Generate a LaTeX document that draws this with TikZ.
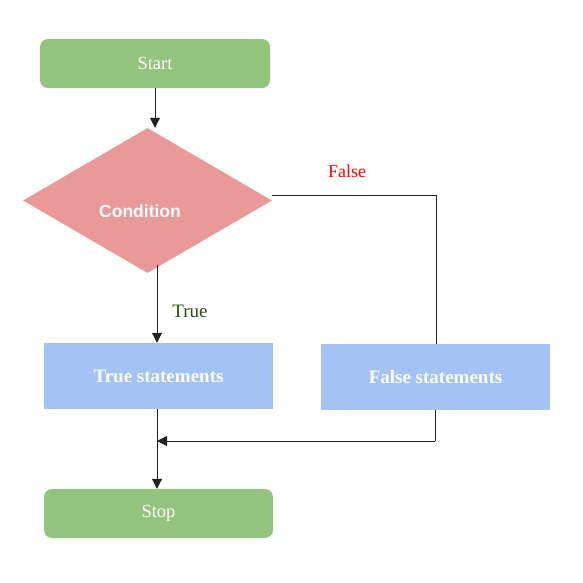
\documentclass[tikz,border=0pt]{standalone}
\usepackage{fontspec}
\setmainfont{Liberation Serif}
\newfontfamily\condfont{Liberation Sans}
\usetikzlibrary{shapes.geometric,arrows.meta}
\definecolor{gbox}{HTML}{93C47D}
\definecolor{pbox}{HTML}{EA9999}
\definecolor{bbox}{HTML}{A4C2F4}
\definecolor{lnc}{HTML}{222222}
\definecolor{tlab}{HTML}{274E13}
\begin{document}
\begin{tikzpicture}[x=1pt,y=-1pt,
  termbox/.style={fill=gbox,rounded corners=8pt,minimum width=230pt,minimum height=49pt,inner sep=0pt,text=white,font=\fontsize{18.5}{22}\selectfont},
  stmtbox/.style={fill=bbox,minimum width=229pt,minimum height=66pt,inner sep=0pt,text=white,font=\fontsize{19}{22}\selectfont\bfseries},
  conn/.style={draw=lnc,line width=1pt},
  arr/.style={conn,-{Triangle[length=10pt,width=10pt]}},
  lab/.style={font=\fontsize{19}{22}\selectfont,inner sep=0pt}]
\useasboundingbox (0,0) rectangle (583,582);
\node[termbox] (start) at (155,63.5) {Start};
\node[diamond,fill=pbox,minimum width=249pt,minimum height=145pt,inner sep=0pt,aspect=1.72] (cond) at (147.5,200.5) {};
\node[text=white,font=\condfont\fontsize{17.5}{20}\selectfont\bfseries,inner sep=0pt] (condtext) at (140,211) {Condition};
\node[stmtbox] (truebox) at (158.5,376) {True statements};
\node[stmtbox] (falsebox) at (435.5,377) {False statements};
\node[termbox,minimum width=229pt] (stop) at (158.5,513.5) {Stop};
\node[lab,text=tlab] (truelab) at (190,311) {True};
\node[lab,text=red,font=\fontsize{18}{22}\selectfont] (falselab) at (347,171) {False};
\coordinate (fcorner) at (436,195);
\coordinate (mergeR) at (435,441);
\coordinate (mergeL) at (157,441);
\draw[arr] (start.south) -- (start.south |- cond.north);
\draw[arr] ([yshift=8pt]cond.south -| 157,0) -- (157,0 |- truebox.north);
\draw[conn] (cond.east |- fcorner) -- (fcorner) -- (fcorner |- falsebox.north);
\draw[conn] (falsebox.south -| mergeR) -- (mergeR);
\draw[arr] (mergeR) -- (mergeL);
\draw[arr] (157,0 |- truebox.south) -- (157,0 |- stop.north);
\end{tikzpicture}
\end{document}
